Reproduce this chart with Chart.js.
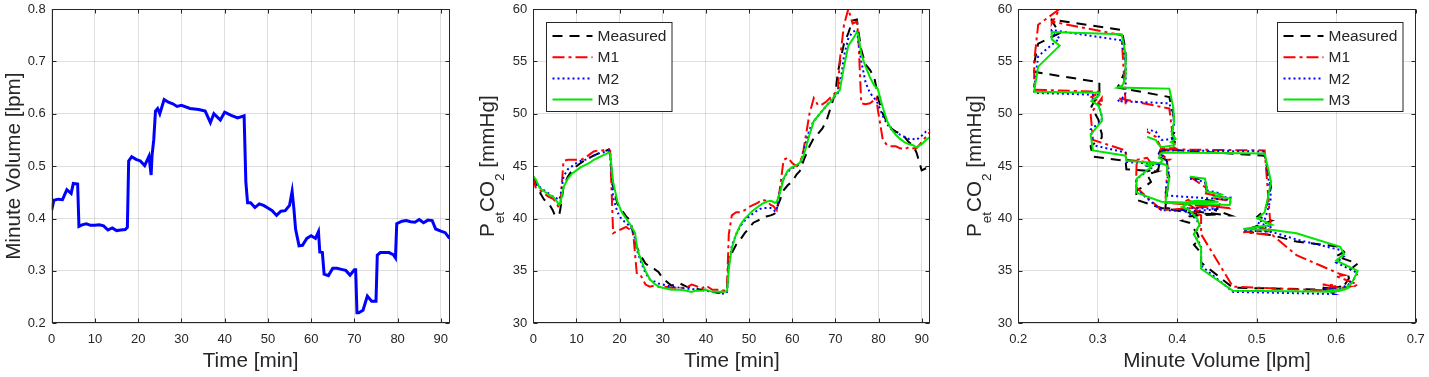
<!DOCTYPE html>
<html><head><meta charset="utf-8">
<script src="https://cdn.jsdelivr.net/npm/chart.js@4.4.0/dist/chart.umd.min.js"></script>
<style>
html,body{margin:0;padding:0;background:#fff;width:1429px;height:377px;overflow:hidden;}
.p{position:absolute;top:0;}
canvas{display:block;}
</style></head><body>
<div class="p" style="left:0px"><canvas id="c1" width="475" height="377" style="width:475px;height:377px"></canvas></div>
<div class="p" style="left:475px"><canvas id="c2" width="475" height="377" style="width:475px;height:377px"></canvas></div>
<div class="p" style="left:950px"><canvas id="c3" width="479" height="377" style="width:479px;height:377px"></canvas></div>
<script>
// ---- data (time in minutes, shared sampling for all series) ----
const time = [0,0.5,1.5,2.5,3.5,4.5,5,6,6.3,7,
  8,9,10,11,12,13,14,15,16,17,
  17.5,17.8,18.5,19.5,20.5,21.5,22.5,23,23.2,23.6,
  24,24.5,25,26,27,28,29,30,32,34,
  35.5,36.7,37.5,39,40,41.5,43,44.5,44.9,45.3,
  46,47,48,49,50,51,52,53,54,55,
  55.6,56,56.4,57.2,58,59,60,61,61.7,62,
  62.6,63,64,65,66,67,68,69,70,70.3,
  70.6,71,72,73,74,75,75.3,76,77,78,
  79,79.5,79.8,81,82,83,84,85,86,87,
  88,88.8,90,91,92];
const minuteVolume = [0.416,0.435,0.437,0.436,0.455,0.448,0.467,0.466,0.385,0.388,
  0.390,0.387,0.387,0.388,0.386,0.378,0.382,0.377,0.378,0.379,
  0.383,0.510,0.518,0.513,0.510,0.501,0.519,0.483,0.520,0.550,
  0.605,0.610,0.600,0.627,0.622,0.619,0.614,0.616,0.610,0.608,
  0.605,0.583,0.600,0.588,0.603,0.597,0.592,0.596,0.470,0.430,
  0.430,0.421,0.428,0.425,0.420,0.415,0.406,0.414,0.415,0.425,
  0.452,0.420,0.380,0.348,0.349,0.362,0.367,0.362,0.375,0.336,
  0.335,0.294,0.291,0.305,0.305,0.303,0.301,0.292,0.302,0.302,
  0.220,0.220,0.225,0.252,0.242,0.242,0.330,0.335,0.335,0.335,
  0.331,0.325,0.390,0.395,0.396,0.394,0.393,0.398,0.392,0.397,
  0.396,0.380,0.376,0.373,0.362];
const measured = [44.0,43.6,42.5,41.8,41.5,40.8,40.3,40.3,41.0,43.0,
  44.0,44.6,45.0,45.3,45.6,45.8,46.0,46.2,46.4,46.5,
  46.6,46.0,43.0,41.4,40.8,40.2,39.8,38.8,38.4,37.8,
  37.3,36.8,36.4,35.7,35.4,35.2,34.9,34.3,33.6,33.8,
  33.5,33.4,33.3,33.2,33.2,33.0,32.9,33.2,33.4,35.8,
  36.7,37.5,38.0,38.6,39.1,39.6,39.8,40.0,40.2,40.3,
  40.4,40.5,41.0,41.8,42.7,43.2,43.5,44.2,44.5,44.7,
  45.5,45.9,46.9,47.7,48.1,48.6,49.4,50.7,52.0,53.0,
  54.0,54.8,56.7,57.7,58.9,59.0,58.0,56.1,54.7,54.2,
  53.5,52.5,51.6,50.0,49.2,48.6,48.3,48.1,47.8,47.3,
  47.0,46.3,44.6,44.8,44.5];
const m1 = [44.0,43.0,42.7,42.4,42.1,41.9,41.7,41.0,41.5,45.5,
  45.6,45.6,45.6,45.6,45.8,46.1,46.4,46.5,46.5,46.6,
  46.6,46.5,38.6,38.8,39.0,39.2,38.9,38.7,38.4,36.5,
  34.7,34.6,34.5,33.7,33.5,33.6,33.5,33.5,33.4,33.4,
  33.4,33.7,33.6,33.3,33.6,33.2,33.2,33.1,33.5,38.5,
  40.3,40.6,40.6,40.8,41.1,41.3,41.5,41.8,41.7,41.3,
  41.2,41.0,40.8,43.0,45.6,45.8,45.3,45.0,45.3,45.6,
  46.5,47.5,50.0,51.5,50.8,50.9,51.2,51.6,52.0,52.1,
  52.3,55.0,58.5,60.0,58.6,58.8,57.5,51.0,50.9,51.0,
  51.3,51.5,50.5,47.5,47.0,46.9,46.9,46.7,46.6,46.8,
  46.7,46.7,47.3,47.8,48.3];
const m2 = [43.8,43.5,43.0,42.7,42.4,42.1,42.0,41.8,42.2,44.0,
  44.7,45.0,45.3,45.5,45.6,45.8,46.0,46.2,46.3,46.4,
  46.5,46.4,42.0,40.6,39.9,39.6,39.2,38.9,38.7,38.0,
  37.0,36.4,35.8,34.8,34.2,34.0,33.8,33.7,33.5,33.4,
  33.3,33.3,33.2,33.2,33.1,33.0,32.9,32.8,33.0,35.5,
  37.4,38.5,39.3,39.8,40.2,40.5,40.8,41.0,41.0,41.0,
  40.9,40.7,40.8,42.8,43.8,44.5,44.8,45.0,45.2,45.4,
  46.3,47.0,48.5,49.3,49.8,50.3,50.8,51.3,51.7,51.8,
  52.0,52.5,55.5,57.2,57.8,58.0,57.0,55.0,53.0,52.0,
  51.5,51.2,51.0,49.8,49.0,48.5,48.2,48.0,47.8,47.6,
  47.6,47.5,47.9,48.3,48.5];
const m3 = [44.0,43.8,42.9,42.6,42.3,42.1,41.9,41.3,41.5,43.0,
  43.8,44.3,44.6,44.9,45.1,45.3,45.6,45.8,46.0,46.2,
  46.3,46.2,43.5,41.6,40.6,40.0,39.4,39.0,38.9,38.6,
  37.3,36.6,36.0,35.0,34.2,33.8,33.5,33.4,33.2,33.2,
  33.1,33.0,33.1,33.1,33.2,33.0,33.0,33.0,33.1,35.2,
  37.2,38.5,39.4,40.0,40.4,40.8,41.1,41.4,41.6,41.7,
  41.6,41.5,41.6,42.5,43.8,44.6,44.9,45.1,45.3,45.5,
  46.0,46.5,48.0,49.3,49.8,50.3,50.8,51.2,51.8,52.0,
  52.1,52.2,54.5,56.5,57.1,57.8,57.6,55.7,54.5,53.5,
  52.7,52.5,52.4,50.6,49.3,48.5,48.0,47.6,47.3,47.1,
  47.0,46.8,47.1,47.5,47.8];
const seriesNames = ['Measured','M1','M2','M3'];
const timeTicks = [0,10,20,30,40,50,60,70,80,90];
const mvTicks = [0.2,0.3,0.4,0.5,0.6,0.7,0.8];
const co2Ticks = [30,35,40,45,50,55,60];
const mvTicksX = [0.2,0.3,0.4,0.5,0.6,0.7];

// ---- styling ----
const FONT = "'Liberation Sans', Arial, Helvetica, sans-serif";
const TXT = '#262626';
const GRID = 'rgba(38,38,38,0.15)';
const seriesStyle = [
  {color:'#000000', dash:[10,7]},
  {color:'#ff0000', dash:[12,4,3,4]},
  {color:'#0000ff', dash:[2,3]},
  {color:'#00e600', dash:[]}
];

function axis(pos, min, max, ticks, size, fmt){
  return {
    type:'linear', position:pos, min:min, max:max,
    afterBuildTicks: s => { s.ticks = ticks.map(v => ({value:v})); },
    afterFit: s => {
      if (pos === 'left') s.width = size; else s.height = size;
      s.paddingTop = 0; s.paddingBottom = 0; s.paddingLeft = 0; s.paddingRight = 0;
    },
    grid:{color:GRID, lineWidth:1, drawTicks:false},
    border:{display:false},
    ticks:{color:TXT, font:{family:FONT, size:13}, padding:pos==='left'?6:8,
      maxRotation:0, autoSkip:false, callback: v => fmt(v)}
  };
}
const f1 = v => v.toFixed(1);
const f0 = v => String(Math.round(v));

const framePlugin = {
  id:'frame',
  afterDraw(chart){
    const {ctx, chartArea:a, scales} = chart;
    const L = Math.round(a.left)+0.5, R = Math.round(a.right)-0.5;
    const T = Math.round(a.top)+0.5, B = Math.round(a.bottom)-0.5;
    ctx.save();
    ctx.strokeStyle = TXT; ctx.lineWidth = 1; ctx.setLineDash([]);
    ctx.strokeRect(L, T, R-L, B-T);
    const tl = 4;
    ctx.beginPath();
    scales.x.ticks.forEach(t => {
      const x = Math.round(scales.x.getPixelForValue(t.value))+0.5;
      ctx.moveTo(x, B); ctx.lineTo(x, B-tl);
      ctx.moveTo(x, T); ctx.lineTo(x, T+tl);
    });
    scales.y.ticks.forEach(t => {
      const y = Math.round(scales.y.getPixelForValue(t.value))+0.5;
      ctx.moveTo(L, y); ctx.lineTo(L+tl, y);
      ctx.moveTo(R, y); ctx.lineTo(R-tl, y);
    });
    ctx.stroke();
    ctx.restore();
  }
};

const titlePlugin = {
  id:'axisTitles',
  afterDraw(chart, args, o){
    const {ctx, chartArea:a} = chart;
    ctx.save();
    ctx.fillStyle = TXT;
    ctx.font = o.size + 'px ' + FONT;
    ctx.textAlign = 'center'; ctx.textBaseline = 'alphabetic';
    ctx.fillText(o.x, (a.left+a.right)/2, a.bottom + o.xdy);
    ctx.translate(a.left + o.ydx, (a.top+a.bottom)/2);
    ctx.rotate(-Math.PI/2);
    ctx.textAlign = 'left';
    const widths = o.y.map(p => { ctx.font = (p.sub ? o.subSize : o.size) + 'px ' + FONT; return ctx.measureText(p.t).width; });
    let x = -widths.reduce((s,w)=>s+w,0)/2;
    o.y.forEach((p,i) => {
      ctx.font = (p.sub ? o.subSize : o.size) + 'px ' + FONT;
      ctx.fillText(p.t, x, p.sub ? o.subDy : 0);
      x += widths[i];
    });
    ctx.restore();
  }
};

const legendPlugin = {
  id:'boxLegend',
  afterDraw(chart, args, o){
    if (!o.show) return;
    const {ctx, chartArea:a} = chart;
    const w = 125.5, h = 89;
    const x0 = o.side === 'left' ? Math.round(a.left + o.dx) + 0.5 : Math.round(a.right - o.dx - w) + 0.5;
    const y0 = Math.round(a.top + o.dy) + 0.5;
    ctx.save();
    ctx.fillStyle = '#ffffff';
    ctx.fillRect(x0, y0, w, h);
    ctx.strokeStyle = TXT; ctx.lineWidth = 1; ctx.setLineDash([]);
    ctx.strokeRect(x0, y0, w, h);
    ctx.font = '15.5px ' + FONT;
    ctx.textBaseline = 'middle'; ctx.textAlign = 'left';
    seriesNames.forEach((name, i) => {
      const ds = chart.data.datasets.find(d => d.label === name);
      const yy = y0 + 13.5 + i*21.2;
      ctx.strokeStyle = ds.borderColor; ctx.lineWidth = ds.borderWidth;
      ctx.setLineDash(ds.borderDash || []);
      ctx.beginPath(); ctx.moveTo(x0+6, yy); ctx.lineTo(x0+46, yy); ctx.stroke();
      ctx.fillStyle = TXT;
      ctx.fillText(name, x0+51, yy+1);
    });
    ctx.restore();
  }
};

Chart.register(framePlugin, titlePlugin, legendPlugin);

function seriesDatasets(xs, ysList){
  return ysList.map((ys, k) => ({
    label: seriesNames[k],
    data: xs.map((xv, i) => ({x: xv, y: ys[i]})),
    borderColor: seriesStyle[k].color,
    borderDash: seriesStyle[k].dash,
    borderWidth: 2,
    pointRadius: 0, tension: 0, showLine: true, fill: false,
    order: 3 - k
  }));
}
const common = {responsive:false, animation:false, events:[]};

new Chart(document.getElementById('c1'), {
  type:'scatter',
  data:{datasets:[{label:'Minute Volume', data: time.map((t,i)=>({x:t, y:minuteVolume[i]})),
    borderColor:'#0000ff', borderWidth:3, pointRadius:0, showLine:true, tension:0}]},
  options:Object.assign({}, common, {
    layout:{padding:{left:0, right:25.5, top:9, bottom:0}},
    scales:{x:axis('bottom',0,92,timeTicks,53.7,f0), y:axis('left',0.2,0.8,mvTicks,51.7,f1)},
    plugins:{legend:{display:false}, tooltip:{enabled:false},
      axisTitles:{x:'Time [min]', y:[{t:'Minute Volume [lpm]'}], size:20.7, subSize:13.5, subDy:10, xdy:43.5, ydx:-31.5},
      boxLegend:{show:false}}
  })
});

new Chart(document.getElementById('c2'), {
  type:'scatter',
  data:{datasets: seriesDatasets(time, [measured, m1, m2, m3])},
  options:Object.assign({}, common, {
    layout:{padding:{left:0, right:19.7, top:9, bottom:0}},
    scales:{x:axis('bottom',0,92,timeTicks,53.7,f0), y:axis('left',30,60,co2Ticks,58.3,f0)},
    plugins:{legend:{display:false}, tooltip:{enabled:false},
      axisTitles:{x:'Time [min]', y:[{t:'P'},{t:'et',sub:true},{t:'CO'},{t:'2',sub:true},{t:' [mmHg]'}], size:20.7, subSize:13.5, subDy:10, xdy:43.5, ydx:-39.3},
      boxLegend:{show:true, side:'left', dx:12.4, dy:13}}
  })
});

new Chart(document.getElementById('c3'), {
  type:'scatter',
  data:{datasets: seriesDatasets(minuteVolume, [measured, m1, m2, m3])},
  options:Object.assign({}, common, {
    layout:{padding:{left:0, right:13.3, top:9, bottom:0}},
    scales:{x:axis('bottom',0.2,0.7,mvTicksX,53.7,f1), y:axis('left',30,60,co2Ticks,68.3,f0)},
    plugins:{legend:{display:false}, tooltip:{enabled:false},
      axisTitles:{x:'Minute Volume [lpm]', y:[{t:'P'},{t:'et',sub:true},{t:'CO'},{t:'2',sub:true},{t:' [mmHg]'}], size:20.7, subSize:13.5, subDy:10, xdy:43.5, ydx:-37.3},
      boxLegend:{show:true, side:'right', dx:13.7, dy:13}}
  })
});
</script>
</body></html>
